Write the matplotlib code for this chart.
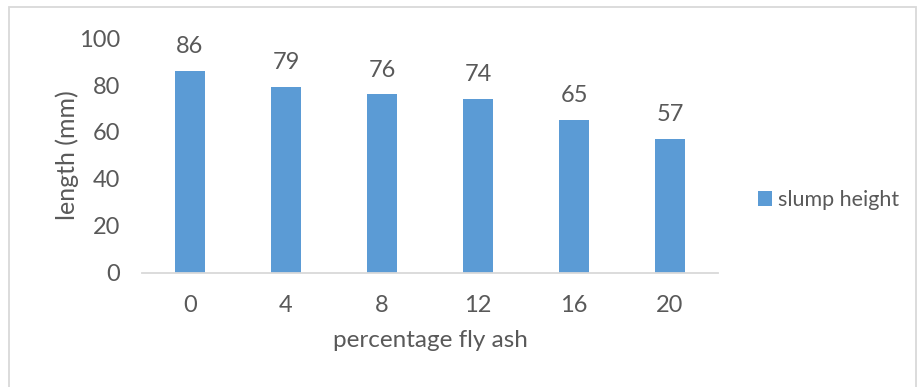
import matplotlib
matplotlib.use("Agg")
import matplotlib.pyplot as plt
from matplotlib.patches import Patch, Rectangle

# slump test results for each fly ash replacement level
fly_ash_pct = ["0", "4", "8", "12", "16", "20"]
slump_height = [86, 79, 76, 74, 65, 57]
y_ticks = [0, 20, 40, 60, 80, 100]

bar_color = "#5B9BD5"
text_color = "#595959"
line_color = "#D9D9D9"

plt.rcParams["font.family"] = ["Lato", "DejaVu Sans"]

fig = plt.figure(figsize=(9.21, 3.87), dpi=100)
ax = fig.add_axes([0.1542, 0.2946, 0.6254, 0.6072])

x = range(len(fly_ash_pct))
bars = ax.bar(x, slump_height, width=0.3125, color=bar_color, zorder=2)

# value labels above each bar
for xi, v in zip(x, slump_height):
    ax.annotate(str(v), (xi, v), xytext=(0, 10), textcoords="offset points",
                ha="center", va="bottom", fontsize=17, color=text_color)

ax.set_xlim(-0.5, len(fly_ash_pct) - 0.5)
ax.set_ylim(0, 100)
ax.set_yticks(y_ticks)
ax.set_xticks(list(x))
ax.set_xticklabels(fly_ash_pct)
ax.tick_params(axis="both", length=0, labelsize=17, colors=text_color)
ax.tick_params(axis="x", pad=16)
ax.tick_params(axis="y", pad=16)

for side in ["top", "right", "left"]:
    ax.spines[side].set_visible(False)
ax.spines["bottom"].set_color(line_color)
ax.spines["bottom"].set_linewidth(1.3)

ax.set_xlabel("percentage fly ash", fontsize=17.5, color=text_color, labelpad=10)
ax.set_ylabel("length (mm)", fontsize=18, color=text_color, labelpad=0)

handle = Patch(facecolor=bar_color, edgecolor="none")
fig.legend([handle], ["slump height"], loc="center left",
           bbox_to_anchor=(0.823, 0.483), frameon=False, fontsize=15.5,
           borderpad=0, borderaxespad=0,
           handlelength=0.65, handleheight=0.65, handletextpad=0.3,
           labelcolor=text_color)

# outer chart border
fig.patches.append(Rectangle((0.0098, -0.05), 0.9848, 1.032, transform=fig.transFigure,
                             fill=False, edgecolor=line_color, linewidth=1.3))

fig.savefig("out.png", dpi=100)
